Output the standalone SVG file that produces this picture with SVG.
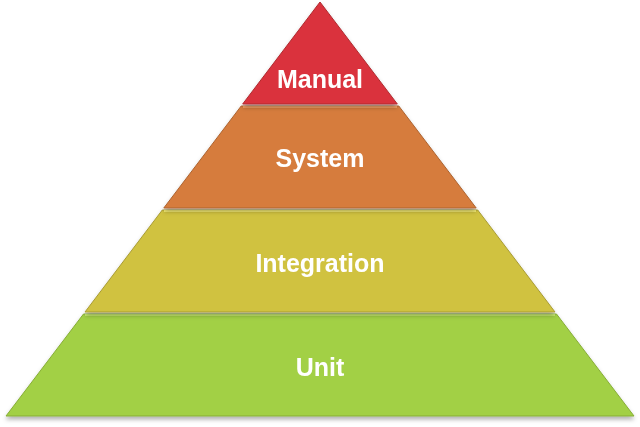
<svg xmlns="http://www.w3.org/2000/svg" width="640" height="427" viewBox="0 0 640 427">
<defs>
<style>
.t{font-family:"Liberation Sans",Arial,sans-serif;font-weight:bold;font-size:25px;fill:#fff;text-anchor:middle}
.e{stroke-width:1;fill-opacity:1}
.hl{stroke-width:2;fill:none}
</style>
<filter id="sh" x="-5%" y="-5%" width="110%" height="115%"><feDropShadow dx="0" dy="3" stdDeviation="2" flood-color="#000" flood-opacity="0.3"/></filter>
</defs>
<rect width="640" height="427" fill="#fff"/>
<g id="unit" filter="url(#sh)">
<polygon points="83.5,314 556.5,314 634,416 6,416" fill="#a2d044" stroke="#86ad36"/>
<line x1="85" y1="315" x2="555" y2="315" class="hl" stroke="#c6ea6e"/>
<text x="320" y="376" class="t">Unit</text>
</g>
<g id="integration" filter="url(#sh)">
<polygon points="162.3,210 477.7,210 555,312 85,312" fill="#d0c241" stroke="#a99c33"/>
<line x1="164" y1="211" x2="476" y2="211" class="hl" stroke="#f3ea72"/>
<text x="320" y="272" class="t">Integration</text>
</g>
<g id="system" filter="url(#sh)">
<polygon points="241.2,106 398.8,106 476.2,208 163.8,208" fill="#d67c3c" stroke="#ad6330"/>
<line x1="243" y1="107" x2="397" y2="107" class="hl" stroke="#f3a064"/>
<text x="320" y="167" class="t">System</text>
</g>
<g id="manual" filter="url(#sh)">
<polygon points="320,2 397.3,104 242.7,104" fill="#da333c" stroke="#b02a30"/>
<text x="320" y="88" class="t">Manual</text>
</g>
</svg>
